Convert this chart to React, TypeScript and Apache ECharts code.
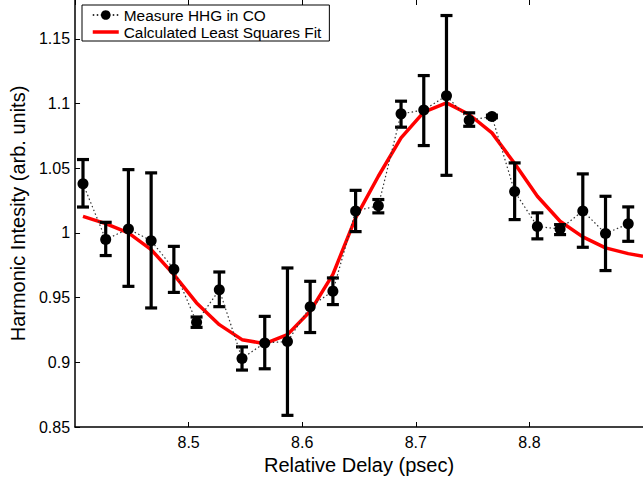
import React, { useEffect, useRef } from 'react';
import * as echarts from 'echarts';

// Measured data (relative delay in psec, harmonic intensity)
const delay = [8.407, 8.427, 8.447, 8.467, 8.487, 8.507, 8.527, 8.547, 8.567, 8.587, 8.607, 8.627, 8.647, 8.667, 8.687, 8.707, 8.727, 8.747, 8.767, 8.787, 8.807, 8.827, 8.847, 8.867, 8.887];
const intensity = [1.038, 0.995, 1.003, 0.994, 0.972, 0.931, 0.956, 0.903, 0.915, 0.916, 0.943, 0.955, 1.017, 1.021, 1.092, 1.095, 1.106, 1.087, 1.090, 1.032, 1.005, 1.003, 1.017, 0.9995, 1.007];
const lowerBound = [1.020, 0.9825, 0.9587, 0.942, 0.954, 0.927, 0.943, 0.894, 0.895, 0.859, 0.923, 0.9446, 1.001, 1.0155, 1.0817, 1.0675, 1.0445, 1.0824, 1.089, 1.0103, 0.9954, 0.9987, 0.9889, 0.9709, 0.9935];
const upperBound = [1.0567, 1.0082, 1.0489, 1.0464, 0.9896, 0.935, 0.9698, 0.9119, 0.9355, 0.9729, 0.9626, 0.9652, 1.0329, 1.0258, 1.1018, 1.1216, 1.168, 1.0928, 1.091, 1.0541, 1.0155, 1.0064, 1.0456, 1.0283, 1.0201];

// Least squares fit
const fitDelay = [8.407, 8.427, 8.447, 8.467, 8.487, 8.507, 8.527, 8.547, 8.567, 8.587, 8.607, 8.627, 8.647, 8.667, 8.687, 8.707, 8.727, 8.747, 8.767, 8.787, 8.807, 8.827, 8.847, 8.867, 8.887, 8.9];
const fitIntensity = [1.0128, 1.0072, 1.0, 0.9871, 0.9678, 0.9459, 0.9291, 0.9175, 0.9144, 0.9214, 0.9394, 0.968, 1.0116, 1.0438, 1.0735, 1.0933, 1.1005, 1.0915, 1.0773, 1.0536, 1.0283, 1.009, 0.9969, 0.9884, 0.984, 0.982];

const FONT = '"Liberation Sans", Arial, Helvetica, sans-serif';

export default function App() {
  const ref = useRef<HTMLDivElement>(null);
  useEffect(() => {
    document.body.style.margin = '0';
    const chart = echarts.init(ref.current!, null, { renderer: 'svg' });
    const measured = delay.map((d, i) => [d, intensity[i]]);
    const bars = delay.map((d, i) => [d, lowerBound[i], upperBound[i]]);
    const fit = fitDelay.map((d, i) => [d, fitIntensity[i]]);
    chart.setOption({
      animation: false,
      backgroundColor: '#ffffff',
      grid: { left: 75, right: -7, top: 0, bottom: 55 },
      legend: {
        left: 82,
        top: 5,
        orient: 'vertical',
        data: [
          { name: 'Measure HHG in CO' },
          { name: 'Calculated Least Squares Fit', itemStyle: { opacity: 0 }, lineStyle: { width: 3.5, color: '#ff0000' } },
        ],
        backgroundColor: '#ffffff',
        borderColor: '#000',
        borderWidth: 1,
        borderRadius: 0,
        padding: [2, 8, 1, 9],
        itemGap: 1,
        itemWidth: 26,
        itemHeight: 12,
        selectedMode: false,
        textStyle: { fontSize: 15.4, color: '#000', fontFamily: FONT, lineHeight: 16 },
      },
      xAxis: [
        {
          type: 'value',
          position: 'bottom',
          min: 8.4,
          max: 8.9,
          interval: 0.1,
          axisLine: { show: true, onZero: false, lineStyle: { color: '#000', width: 1.5 } },
          axisTick: { show: true, inside: true, length: 5, lineStyle: { color: '#000', width: 1 } },
          axisLabel: {
            fontSize: 16,
            color: '#000',
            fontFamily: FONT,
            margin: 7,
            showMinLabel: false,
            showMaxLabel: false,
            formatter: (v: number) => v.toFixed(1),
          },
          splitLine: { show: false },
          name: 'Relative Delay (psec)',
          nameLocation: 'middle',
          nameGap: 25,
          nameTextStyle: { fontSize: 20, color: '#000', fontFamily: FONT },
        },
        {
          type: 'value',
          position: 'top',
          min: 8.4,
          max: 8.9,
          interval: 0.1,
          axisLine: { show: false, onZero: false },
          axisTick: { show: true, inside: true, length: 5, lineStyle: { color: '#000', width: 1 } },
          axisLabel: { show: false },
          splitLine: { show: false },
        },
      ],
      yAxis: {
        type: 'value',
        min: 0.85,
        max: 1.18,
        interval: 0.05,
        axisLine: { show: true, onZero: false, lineStyle: { color: '#000', width: 1.5 } },
        axisTick: { show: true, inside: true, length: 5, lineStyle: { color: '#000', width: 1 } },
        axisLabel: {
          fontSize: 16,
          color: '#000',
          fontFamily: FONT,
          margin: 5,
          showMaxLabel: false,
          formatter: (v: number) => String(parseFloat(v.toFixed(2))),
        },
        splitLine: { show: false },
        name: 'Harmonic Intesity (arb. units)',
        nameLocation: 'middle',
        nameGap: 42,
        nameTextStyle: { fontSize: 20, color: '#000', fontFamily: FONT },
      },
      series: [
        {
          name: 'Calculated Least Squares Fit',
          type: 'line',
          data: fit,
          symbol: 'none',
          lineStyle: { color: '#ff0000', width: 3.5 },
          itemStyle: { color: '#ff0000' },
          z: 2,
        },
        {
          name: 'Measure HHG in CO',
          type: 'line',
          data: measured,
          symbol: 'circle',
          symbolSize: 11,
          showSymbol: true,
          lineStyle: { color: '#333', width: 1.2, type: [1.5, 2.5] },
          itemStyle: { color: '#000', borderColor: '#000', borderWidth: 0 },
          z: 4,
        },
        {
          name: 'errorbars',
          type: 'custom',
          data: bars,
          encode: { x: 0, y: [1, 2] },
          z: 3,
          silent: true,
          renderItem: (params: any, api: any) => {
            const x = api.value(0);
            const lo = api.coord([x, api.value(1)]);
            const hi = api.coord([x, api.value(2)]);
            const hw = 6;
            const style = { stroke: '#000', lineWidth: 3.2 };
            return {
              type: 'group',
              children: [
                { type: 'line', shape: { x1: hi[0], y1: hi[1], x2: lo[0], y2: lo[1] }, style },
                { type: 'line', shape: { x1: hi[0] - hw, y1: hi[1], x2: hi[0] + hw, y2: hi[1] }, style },
                { type: 'line', shape: { x1: lo[0] - hw, y1: lo[1], x2: lo[0] + hw, y2: lo[1] }, style },
              ],
            };
          },
        },
      ],
    });
    return () => chart.dispose();
  }, []);
  return <div ref={ref} style={{ width: 643, height: 482 }} />;
}
